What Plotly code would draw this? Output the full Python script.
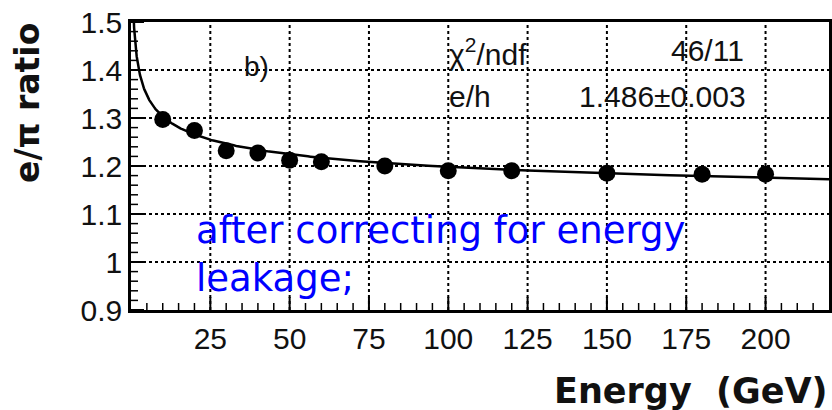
import numpy as np
import plotly.graph_objects as go

# Measured e/pi ratio vs beam energy
energy = [10, 20, 30, 40, 50, 60, 80, 100, 120, 150, 180, 200]
ratio = [1.297, 1.274, 1.232, 1.227, 1.212, 1.209, 1.200, 1.190, 1.190, 1.185, 1.183, 1.183]

# Fit parameters: e/pi = (e/h) / (1 + (e/h - 1) * (1 - (E/E0)^(m-1)))
E_OVER_H = 1.486
E0 = 1.0
M_MINUS_1 = -0.148

x_ticks = [25, 50, 75, 100, 125, 150, 175, 200]
y_ticks = [0.9, 1.0, 1.1, 1.2, 1.3, 1.4, 1.5]
y_tick_text = ["0.9", "1", "1.1", "1.2", "1.3", "1.4", "1.5"]
X_RANGE = [0, 220]
Y_RANGE = [0.9, 1.5]
X_MINOR_STEP = 5
Y_MINOR_STEP = 0.02

e_fit = np.geomspace(0.5, 220, 400)
fem = 1.0 - (e_fit / E0) ** M_MINUS_1
ratio_fit = E_OVER_H / (1.0 + (E_OVER_H - 1.0) * fem)

fig = go.Figure()
fig.add_trace(go.Scatter(x=e_fit, y=ratio_fit, mode="lines",
                         line=dict(color="black", width=2.5), hoverinfo="skip"))
fig.add_trace(go.Scatter(x=energy, y=ratio, mode="markers",
                         marker=dict(color="black", size=17)))

tick_font = dict(family="Liberation Sans, Arial, sans-serif", size=30, color="#111")

L, R, T, B = 131, 3, 22, 100
W, H = 832, 410
pw, ph = W - L - R, H - T - B

fig.update_layout(
    template="none",
    width=W, height=H, margin=dict(l=L, r=R, t=T, b=B),
    plot_bgcolor="white", paper_bgcolor="white", showlegend=False,
    xaxis=dict(range=X_RANGE, tickmode="array", tickvals=x_ticks,
               ticktext=[str(v) for v in x_ticks], ticks="",
               showline=True, linecolor="black", linewidth=2.5, mirror=True,
               showgrid=False, zeroline=False, tickfont=tick_font),
    yaxis=dict(range=Y_RANGE, tickmode="array", tickvals=y_ticks, ticktext=y_tick_text,
               ticks="", showline=True, linecolor="black", linewidth=2.5, mirror=True,
               showgrid=False, zeroline=False, tickfont=tick_font),
)

# dotted grid at the major tick values
grid_line = dict(color="black", width=2, dash="dot")
for xv in x_ticks:
    fig.add_shape(type="line", xref="x", yref="y", x0=xv, x1=xv,
                  y0=Y_RANGE[0], y1=Y_RANGE[1], line=grid_line, layer="below")
for yv in y_ticks:
    if Y_RANGE[0] < yv < Y_RANGE[1]:
        fig.add_shape(type="line", xref="x", yref="y", x0=X_RANGE[0], x1=X_RANGE[1],
                      y0=yv, y1=yv, line=grid_line, layer="below")

# inside ticks on the bottom and left axes (major long, minor short)
x_minor = [v for v in np.arange(X_RANGE[0] + X_MINOR_STEP, X_RANGE[1], X_MINOR_STEP)
           if not np.isclose(v % 25, 0)]
y_minor = [v for v in np.arange(Y_RANGE[0] + Y_MINOR_STEP, Y_RANGE[1] - 1e-9, Y_MINOR_STEP)
           if not np.isclose(round(v * 10) / 10, v)]
for xv, ln, wd in [(v, 13, 2) for v in x_ticks] + [(v, 7, 1.5) for v in x_minor]:
    fig.add_shape(type="line", xref="x", yref="y", ysizemode="pixel", yanchor=Y_RANGE[0],
                  x0=xv, x1=xv, y0=0, y1=ln, line=dict(color="black", width=wd))
for yv, ln, wd in [(v, 13, 2) for v in y_ticks] + [(v, 7, 1.5) for v in y_minor]:
    fig.add_shape(type="line", xref="x", yref="y", xsizemode="pixel", xanchor=X_RANGE[0],
                  y0=yv, y1=yv, x0=0, x1=ln, line=dict(color="black", width=wd))


def px(xp):
    return (xp - L) / pw


def py(yp):
    return (H - B - yp) / ph


stat_font = dict(family="Liberation Sans, Arial, sans-serif", size=30, color="#111")
annotations = [
    dict(text="e/\u03c0 ratio", x=px(27), y=py(103), textangle=-90,
         xanchor="center", yanchor="middle",
         font=dict(family="DejaVu Sans", size=33, color="#111", weight="bold")),
    dict(text="Energy\u00a0\u00a0(GeV)", x=px(830), y=py(391),
         xanchor="right", yanchor="middle",
         font=dict(family="DejaVu Sans", size=35, color="#111", weight="bold")),
    dict(text="b)", x=px(242), y=py(66), xanchor="left", yanchor="middle",
         font=dict(family="Liberation Sans, Arial, sans-serif", size=28, color="#111")),
    dict(text="\u03c7<sup>2</sup>/ndf", x=px(447), y=py(52), xanchor="left", yanchor="middle",
         font=stat_font),
    dict(text="46/11", x=px(746), y=py(51), xanchor="right", yanchor="middle", font=stat_font),
    dict(text="e/h", x=px(447), y=py(97), xanchor="left", yanchor="middle", font=stat_font),
    dict(text="1.486\u00b10.003", x=px(748), y=py(97), xanchor="right", yanchor="middle",
         font=stat_font),
    dict(text="after correcting for energy<br>leakage;", x=px(194), y=py(254),
         xanchor="left", yanchor="middle", align="left",
         font=dict(family="DejaVu Sans", size=37, color="#0000ff")),
]
for a in annotations:
    a.update(xref="paper", yref="paper", showarrow=False)
fig.update_layout(annotations=annotations)

fig.write_html("out.html")
